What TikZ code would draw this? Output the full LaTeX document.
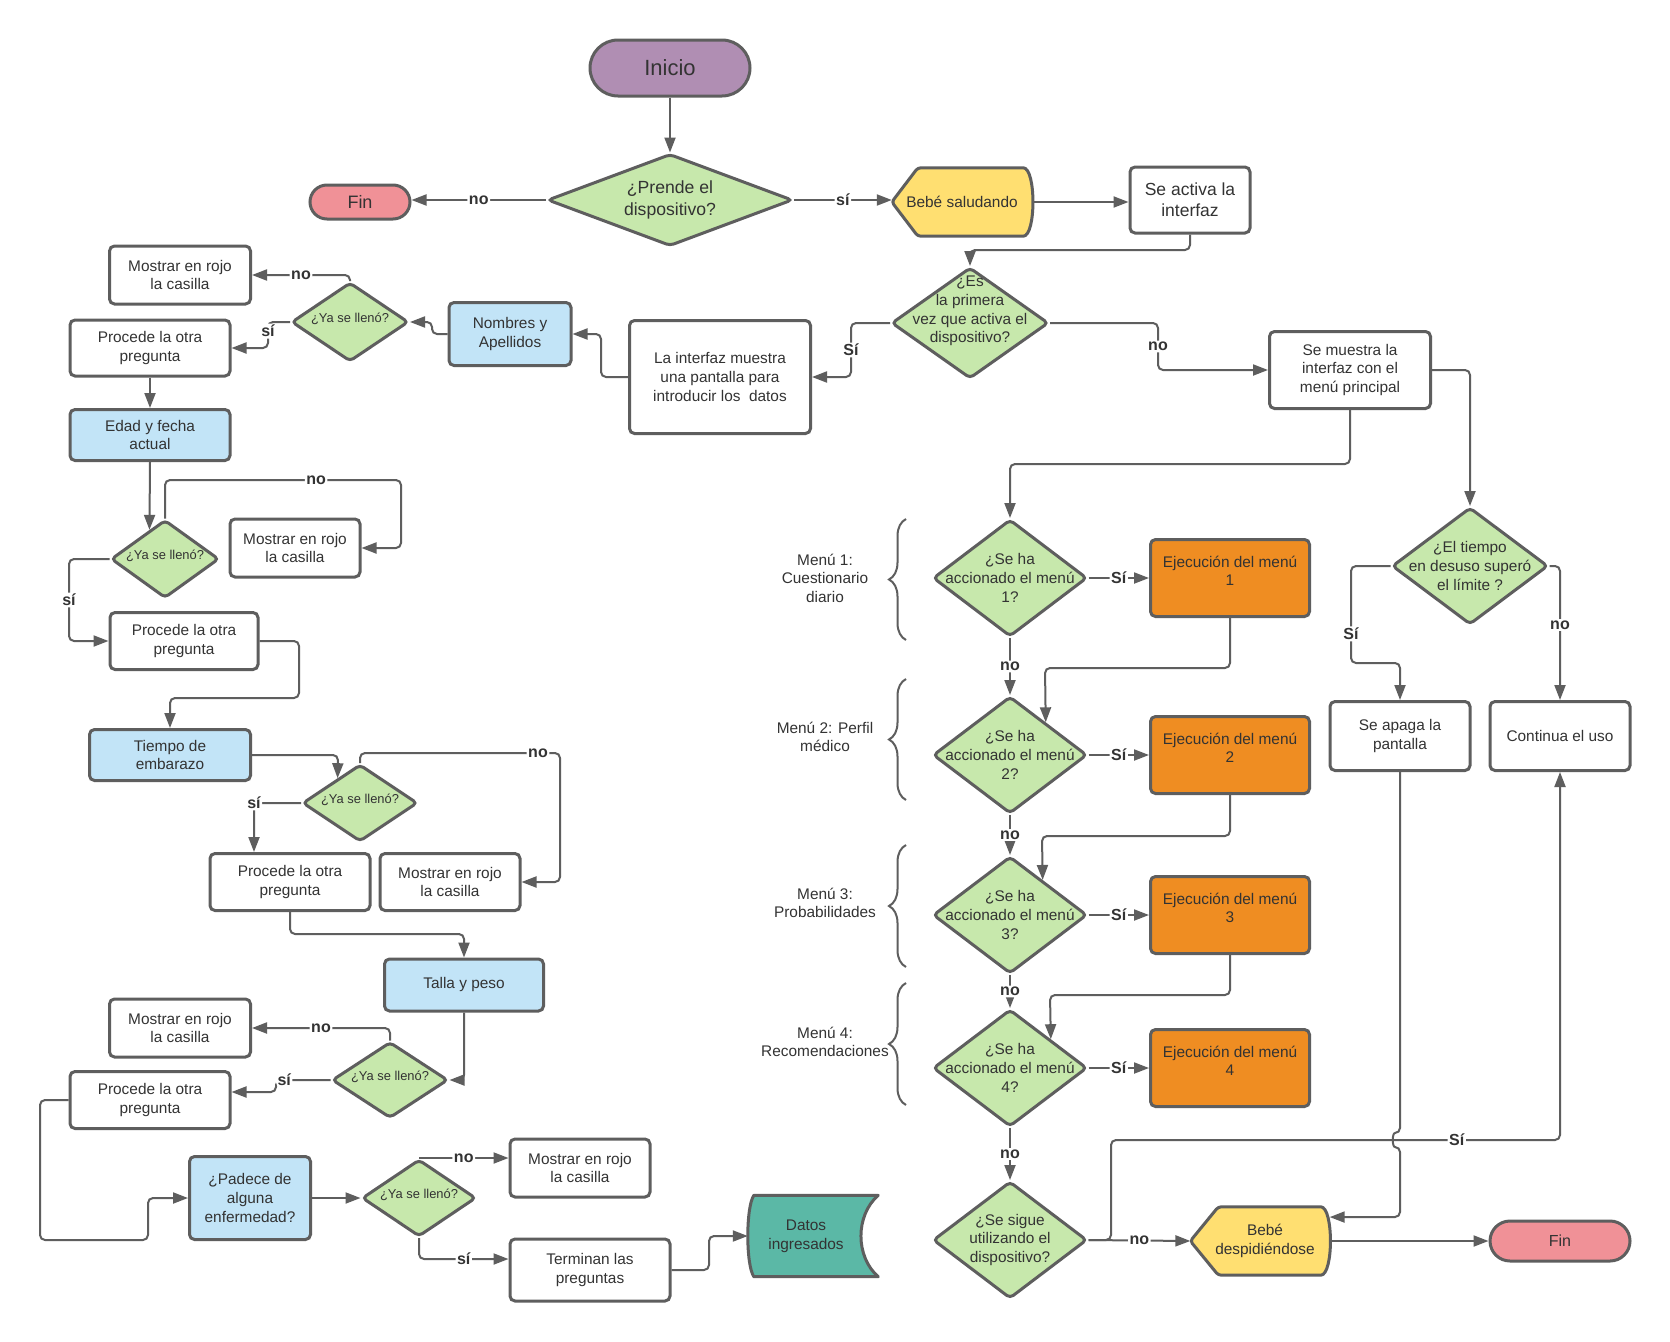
\documentclass[tikz,border=0pt]{standalone}
\usepackage{fontspec}
\setmainfont{Liberation Sans}
\usetikzlibrary{shapes.geometric,arrows.meta,backgrounds,decorations.pathreplacing,calc}
\definecolor{ln}{HTML}{5E5E5E}
\definecolor{txt}{HTML}{333333}
\definecolor{cpurple}{HTML}{B08EB3}
\definecolor{cpink}{HTML}{F09197}
\definecolor{cgreen}{HTML}{C7E8AC}
\definecolor{cblue}{HTML}{C2E4F7}
\definecolor{cyellow}{HTML}{FFDF71}
\definecolor{corange}{HTML}{EF8D22}
\definecolor{cteal}{HTML}{5BB8A6}
\tikzset{
  sz/.style 2 args={minimum width=#1pt, minimum height=#2pt},
  base/.style={draw=ln, line width=3pt, align=center, inner sep=3pt, text=txt, font=\fontsize{15.4}{18.6}\selectfont},
  box/.style={base, rectangle, rounded corners=5pt, fill=white},
  bbox/.style={box, fill=cblue},
  obox/.style={box, fill=corange},
  term/.style={base, rectangle},
  dia/.style={base, diamond, fill=cgreen, inner sep=0pt, rounded corners=4pt},
  dtxt/.style={align=center, text=txt, inner sep=0pt, font=\fontsize{15.4}{18.6}\selectfont},
  stxt/.style={align=center, text=txt, inner sep=0pt, font=\fontsize{12.9}{15}\selectfont},
  plain/.style={align=center, text=txt, inner sep=0pt, font=\fontsize{15.4}{18.6}\selectfont},
  conn/.style={draw=ln, line width=2pt, rounded corners=5pt, -{Triangle[length=15pt,width=11pt]}},
  lbl/.style={fill=white, inner sep=1.5pt, text=txt, font=\bfseries\fontsize{16}{18}\selectfont},
  brc/.style={draw=ln, line width=2pt, decorate, decoration={brace, amplitude=17pt}},
  shp/.style={draw=ln, line width=3pt, line join=round},
}
\begin{document}
\begin{tikzpicture}[x=1pt,y=-1pt]
\useasboundingbox (0,0) rectangle (1670,1341);
\begin{scope}[on background layer]
\fill[white] (0,0) rectangle (1670,1341);
\end{scope}

% ---------- top ----------
\node[term, fill=cpurple, sz={160}{56}, rounded corners=28pt, font=\fontsize{22}{26}\selectfont] (ini) at (670,68) {Inicio};
\node[dia, sz={245}{92}, label={[dtxt, font=\fontsize{17.6}{21.3}\selectfont]center:{¿Prende el\\dispositivo?}}] (prende) at (670,200) {};
\node[term, fill=cpink, sz={100}{34}, rounded corners=17pt, font=\fontsize{18}{21}\selectfont] (fin1) at (360,202) {Fin};
\node[plain, sz={140}{68}] (bs) at (962,202) {Bebé saludando};
\node[box, sz={120}{66}, font=\fontsize{17.5}{21}\selectfont] (sa) at (1190,200) {Se activa la\\interfaz};
\node[dia, sz={157}{111}, label={[dtxt, yshift=12pt]center:{¿Es\\la primera\\vez que activa el\\dispositivo?}}] (es) at (970,323) {};
\node[box, sz={181}{113}] (li) at (720,377) {La interfaz muestra\\una pantalla para\\introducir los\ \ datos};
\node[box, sz={161}{77}] (sm) at (1350,370) {Se muestra la\\interfaz con el\\menú principal};

% ---------- left column ----------
\node[bbox, sz={122}{63}] (na) at (510,334) {Nombres y\\Apellidos};
\node[dia, sz={117}{79}, label={[stxt, yshift=3pt]center:{¿Ya se llenó?}}] (y1) at (350,322) {};
\node[box, sz={141}{58}] (m1) at (180,275) {Mostrar en rojo\\la casilla};
\node[box, sz={160}{56}] (p1) at (150,348) {Procede la otra\\pregunta};
\node[bbox, sz={160}{51}] (e) at (150,435) {Edad y fecha\\actual};
\node[dia, sz={108}{78}, label={[stxt, yshift=3pt]center:{¿Ya se llenó?}}] (y2) at (165,559) {};
\node[box, sz={130}{58}] (m2) at (295,548) {Mostrar en rojo\\la casilla};
\node[box, sz={148}{57}] (p2) at (184,641) {Procede la otra\\pregunta};
\node[bbox, sz={161}{51}] (t) at (170,755) {Tiempo de\\embarazo};
\node[dia, sz={115}{77}, label={[stxt, yshift=3pt]center:{¿Ya se llenó?}}] (y3) at (360,803) {};
\node[box, sz={140}{57}] (m3) at (450,882) {Mostrar en rojo\\la casilla};
\node[box, sz={160}{57}] (p3) at (290,882) {Procede la otra\\pregunta};
\node[bbox, sz={159}{52}] (tp) at (464,985) {Talla y peso};
\node[dia, sz={116}{76}, label={[stxt, yshift=3pt]center:{¿Ya se llenó?}}] (y4) at (390,1080) {};
\node[box, sz={141}{58}] (m4) at (180,1028) {Mostrar en rojo\\la casilla};
\node[box, sz={160}{57}] (p4) at (150,1100) {Procede la otra\\pregunta};
\node[bbox, sz={121}{83}] (pa) at (250,1198) {¿Padece de\\alguna\\enfermedad?};
\node[dia, sz={114}{77}, label={[stxt, yshift=3pt]center:{¿Ya se llenó?}}] (y5) at (419,1198) {};
\node[box, sz={140}{58}] (m5) at (580,1168) {Mostrar en rojo\\la casilla};
\node[box, sz={160}{62}] (te) at (590,1270) {Terminan las\\preguntas};
\node[plain, sz={130}{81}, label={[plain, xshift=-7pt]center:{Datos\\ingresados}}] (di) at (813,1236) {};

% ---------- menus ----------
\node[dia, sz={154}{117}, label={[dtxt]center:{¿Se ha\\accionado el menú\\1?}}] (d1) at (1010,578) {};
\node[dia, sz={154}{117}, label={[dtxt]center:{¿Se ha\\accionado el menú\\2?}}] (d2) at (1010,755) {};
\node[dia, sz={154}{117}, label={[dtxt]center:{¿Se ha\\accionado el menú\\3?}}] (d3) at (1010,915) {};
\node[dia, sz={154}{117}, label={[dtxt]center:{¿Se ha\\accionado el menú\\4?}}] (d4) at (1010,1068) {};
\node[dia, sz={154}{117}, label={[dtxt]center:{¿Se sigue\\utilizando el\\dispositivo?}}] (d5) at (1010,1240) {};
\node[obox, sz={159}{77}] (e1) at (1230,578) {Ejecución del menú\\1\\[-4pt]};
\node[obox, sz={159}{77}] (e2) at (1230,755) {Ejecución del menú\\2\\[-4pt]};
\node[obox, sz={159}{77}] (e3) at (1230,915) {Ejecución del menú\\3\\[-4pt]};
\node[obox, sz={159}{77}] (e4) at (1230,1068) {Ejecución del menú\\4\\[-4pt]};
\node[dia, sz={156}{117}, label={[dtxt]center:{¿El tiempo\\en desuso superó\\el límite ?}}] (et) at (1470,566) {};
\node[box, sz={140}{69}] (sp) at (1400,736) {Se apaga la\\pantalla};
\node[box, sz={140}{69}] (cu) at (1560,736) {Continua el uso};
\node[plain, sz={139}{68}, label={[plain, xshift=5pt]center:{Bebé\\despidiéndose}}] (bd) at (1260,1241) {};
\node[term, fill=cpink, sz={140}{40}, rounded corners=20pt, font=\fontsize{16}{19}\selectfont] (fin2) at (1560,1241) {Fin};

\node[plain] (ml1) at (825,578) {Menú 1:\\Cuestionario\\diario};
\node[plain] (ml2) at (825,737) {Menú 2: Perfil\\médico};
\node[plain] (ml3) at (825,903) {Menú 3:\\Probabilidades};
\node[plain] (ml4) at (825,1042) {Menú 4:\\Recomendaciones};
\draw[brc] (906,640) -- (906,519);
\draw[brc] (906,800) -- (906,679);
\draw[brc] (906,967) -- (906,845);
\draw[brc] (906,1105) -- (906,983);

% ---------- special shapes ----------
\begin{scope}[on background layer]
\path[shp, fill=cyellow, rounded corners=3pt] (bs.west) -- ([xshift=26pt]bs.north west) -- ([xshift=-12pt]bs.north east) .. controls ([xshift=4pt]bs.north east) and ([xshift=4pt]bs.south east) .. ([xshift=-12pt]bs.south east) -- ([xshift=26pt]bs.south west) -- cycle;
\path[shp, fill=cyellow, rounded corners=3pt] (bd.west) -- ([xshift=28pt]bd.north west) -- ([xshift=-12pt]bd.north east) .. controls ([xshift=4pt]bd.north east) and ([xshift=4pt]bd.south east) .. ([xshift=-12pt]bd.south east) -- ([xshift=28pt]bd.south west) -- cycle;
\path[shp, fill=cteal] ([xshift=6pt]di.north west) -- (di.north east) .. controls ([xshift=-23pt,yshift=-20pt]di.north east) and ([xshift=-23pt,yshift=20pt]di.south east) .. (di.south east) -- ([xshift=6pt]di.south west) .. controls ([xshift=-2pt,yshift=12pt]di.south west) and ([xshift=-2pt,yshift=-12pt]di.north west) .. cycle;
\end{scope}

% ---------- connectors: top ----------
\draw[conn] (ini) -- (prende);
\draw[conn] (prende.west) -- node[lbl]{no} (prende.west -| fin1.east);
\draw[conn] (prende.east) -- node[lbl]{sí} (prende.east -| bs.west);
\draw[conn] (bs.east) -- (bs.east -| sa.west);
\draw[conn] (sa.south) -- (1190,250) -- (970,250) -- (es.north);
\draw[conn] (es.west) -- (851,323) -- node[lbl]{Sí} (851,377) -- (li.east);
\draw[conn] (es.east) -- (1158,323) -- node[lbl]{no} (1158,370) -- (sm.west);
\draw[conn] (li.west) -- (601,377) -- (601,334) -- (na.east);
\draw[conn] (na.west) -- (432,334) -- (432,322) -- (y1.east);
\draw[conn] (y1.north) |- node[lbl,pos=0.75]{no} (m1.east);
\draw[conn] (y1.west) -- (268,322) -- node[lbl,pos=0.35]{sí} (268,348) -- (p1.east);
\draw[conn] (p1) -- (e);
\draw[conn] (e.south) -- ($(y2.north)!0.28!(y2.west)$);
\draw[conn] (y2.north) -- (165,480) -- node[lbl,pos=0.64]{no} (401,480) -- (401,548) -- (m2.east);
\draw[conn] (y2.west) -- (69,559) -- node[lbl]{sí} (69,641) -- (p2.west);
\draw[conn] (p2.east) -- (299,641) -- (299,698) -- (170,698) -- (t.north);
\draw[conn] (t.east) -- (338,755) -- ($(y3.north)!0.38!(y3.west)$);
\draw[conn] (y3.north) -- (360,753) -- node[lbl,pos=0.89]{no} (560,753) -- (560,882) -- (m3.east);
\draw[conn] (y3.west) -- node[lbl,pos=1]{sí} (254,803) -- (p3.north -| 254,0);
\draw[conn] (p3.south) -- (290,934) -- (464,934) -- (tp.north);
\draw[conn] (tp.south) -- (464,1080) -- (y4.east);
\draw[conn] (y4.north) |- node[lbl,pos=0.75]{no} (m4.east);
\draw[conn] (y4.west) -- node[lbl,pos=0.85]{sí} (276,1080) -- (276,1092) -- (p4.east |- 0,1092);
\draw[conn] (p4.west) -- (40,1100) -- (40,1240) -- (148,1240) -- (148,1198) -- (pa.west);
\draw[conn] (pa.east) -- (y5.west);
\draw[conn] (y5.north) -- node[lbl]{no} (y5.north -| m5.west);
\draw[conn] (y5.south) -- (419,1259) -- node[lbl]{sí} (te.west |- 0,1259);
\draw[conn] (te.east) -- (709,1270) -- (709,1236) -- (di.west);

% ---------- connectors: menus ----------
\draw[conn] (sm.south) -- (1350,464) -- (1010,464) -- (d1.north);
\draw[conn] (sm.east) -| (et.north);
\draw[conn] (d1.east) -- node[lbl]{Sí} (e1.west);
\draw[conn] (d2.east) -- node[lbl]{Sí} (e2.west);
\draw[conn] (d3.east) -- node[lbl]{Sí} (e3.west);
\draw[conn] (d4.east) -- node[lbl]{Sí} (e4.west);
\draw[conn] (d1.south) -- node[lbl]{no} (d2.north);
\draw[conn] (d2.south) -- node[lbl]{no} (d3.north);
\draw[conn] (d3.south) -- node[lbl]{no} (d4.north);
\draw[conn] (d4.south) -- node[lbl]{no} (d5.north);
\draw[conn] (e1.south) -- (1230,668) -- (1045,668) -- ($(d2.north)!0.455!(d2.east)$);
\draw[conn] (e2.south) -- (1230,836) -- (1042,836) -- ($(d3.north)!0.416!(d3.east)$);
\draw[conn] (e3.south) -- (1230,995) -- (1050,995) -- ($(d4.north)!0.52!(d4.east)$);
\draw[conn] (d5.east) -- node[lbl]{no} (bd.west);
\draw[conn] (et.west) -- (1351,566) -- node[lbl,pos=0.7]{Sí} (1351,663) -- (1400,663) -- (sp.north);
\draw[conn] (et.east) -- (1560,566) -- node[lbl,pos=0.44]{no} (cu.north);
\draw[conn] (sp.south) -- (1400,1133) .. controls (1392,1133) and (1392,1147) .. (1400,1147) -- (1400,1217) -- ($(bd.north east)!0.15!(bd.south east)$);
\draw[conn] (d5.east) -- (1111,1240) -- (1111,1140) -- node[lbl,pos=0.77]{Sí} (1560,1140) -- (cu.south);
\draw[conn] (bd.east) -- (fin2.west);
\end{tikzpicture}
\end{document}
